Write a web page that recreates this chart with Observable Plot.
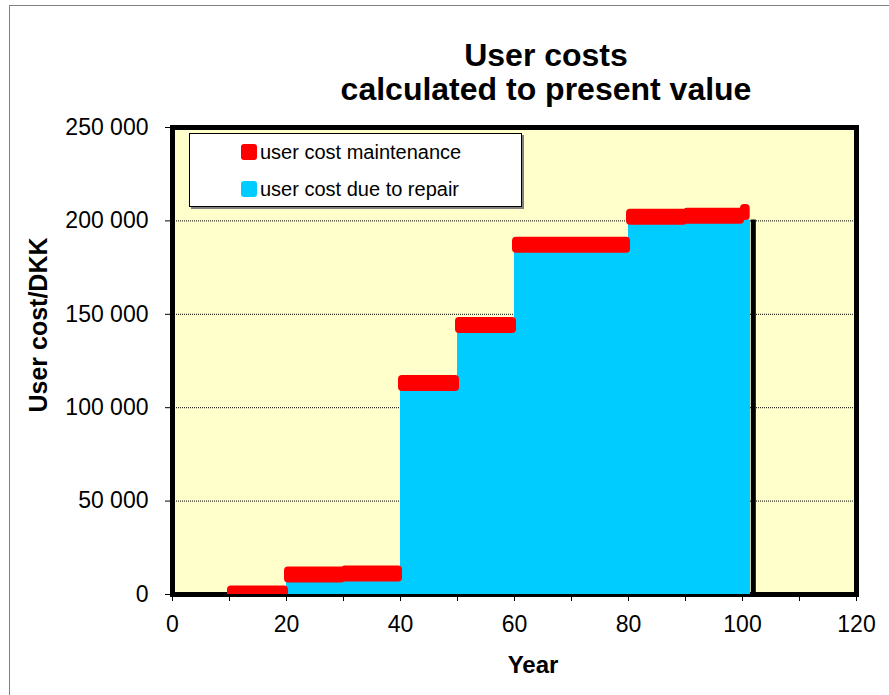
<!DOCTYPE html>
<html>
<head>
<meta charset="utf-8">
<script src="https://cdn.jsdelivr.net/npm/d3@7"></script>
<script src="https://cdn.jsdelivr.net/npm/@observablehq/plot@0.6"></script>
<style>
  html, body { margin: 0; padding: 0; }
  body { width: 889px; height: 695px; position: relative; overflow: hidden; background: #fff;
         font-family: "Liberation Sans", Arial, sans-serif; color: #000; }
  #outer { position: absolute; left: 9px; top: 5px; width: 1000px; height: 1000px; border: 1px solid #808080; }
  #chart { position: absolute; left: 0; top: 0; }
  .title { position: absolute; left: 246px; width: 600px; text-align: center; font-weight: bold;
           font-size: 32px; line-height: 32px; white-space: nowrap; }
  #legend { position: absolute; left: 189px; top: 133px; width: 331px; height: 72px; background: #fff;
            border: 1px solid #000; box-shadow: 2px 2px 0 #808080; }
  .sw { position: absolute; left: 51px; width: 16px; height: 16px; border-radius: 3px; }
  .lt { position: absolute; left: 70px; font-size: 20px; line-height: 20px; white-space: nowrap; }
  #xlabel { position: absolute; left: 433px; width: 200px; top: 653px; text-align: center; font-weight: bold;
            font-size: 24px; line-height: 24px; }
  #ylabel { position: absolute; left: 38px; top: 325px; transform: translate(-50%, -50%) rotate(-90deg);
            font-weight: bold; font-size: 25px; line-height: 25px; white-space: nowrap; }
</style>
</head>
<body>
<div id="outer"></div>
<div id="chart"></div>
<div class="title" style="top:39px"></div>
<div class="title" style="top:73px"></div>
<div id="legend"></div>
<div id="xlabel"></div>
<div id="ylabel"></div>
<script>
// ---- data ----
const titleLines = ["User costs", "calculated to present value"];
const xLabel = "Year";
const yLabel = "User cost/DKK";
const seriesNames = ["user cost maintenance", "user cost due to repair"];
const seriesColors = ["#ff0000", "#00ccff"];

// user cost due to repair (blue step area)
const repairYear  = [0, 20, 40, 50, 60, 80, 101.4];
const repairValue = [0, 10000, 112000, 143000, 186000, 200500, 200500];
const repairEndYear = 101.9;

// user cost maintenance (red thick segments)
const maintStart = [10, 20, 30, 40, 50, 60, 80, 90, 100];
const maintEnd   = [20, 30, 40, 50, 60, 80, 90, 100, 101];
const maintValue = [300, 10500, 11000, 113000, 144000, 187000, 202000, 202500, 204500];

// axes
const xTicks = [0, 10, 20, 30, 40, 50, 60, 70, 80, 90, 100, 110, 120];
const yTicks = [0, 50000, 100000, 150000, 200000, 250000];
const gridValues = [50000, 100000, 150000, 200000];

// ---- build tables ----
const repair = repairYear.map((x, i) => ({x, y: repairValue[i]}));
const maint = maintStart.map((s, i) => ({x1: s, x2: maintEnd[i], y: maintValue[i]}));
const fmtY = d => d3.format(",")(d).replace(/,/g, " ");

const chart = Plot.plot({
  width: 889,
  height: 695,
  marginLeft: 172,
  marginRight: 33,
  marginTop: 127,
  marginBottom: 101,
  style: {fontFamily: "'Liberation Sans', Arial, sans-serif", fontSize: "23px", background: "transparent", color: "#000"},
  x: {domain: [0, 120], ticks: xTicks, tickFormat: d => (d % 20 === 0 ? String(d) : ""), tickSize: 7, tickPadding: 14, label: null},
  y: {domain: [0, 250000], ticks: yTicks, tickFormat: fmtY, tickSize: 7, tickPadding: 17, label: null},
  marks: [
    Plot.frame({fill: "#ffffcc"}),
    Plot.ruleY(gridValues, {stroke: "#000", strokeWidth: 1, strokeDasharray: "1,1"}),
    Plot.frame({stroke: "#000", strokeWidth: 5}),
    Plot.areaY(repair, {x: "x", y: "y", curve: "step-after", fill: seriesColors[1]}),
    Plot.ruleX([repairEndYear], {y1: 0, y2: repairValue[repairValue.length - 1], stroke: "#000", strokeWidth: 5}),
    Plot.rect(maint, {x1: "x1", x2: "x2", y1: "y", y2: "y", fill: seriesColors[0], rx: 4,
      insetTop: -8, insetBottom: -8, insetLeft: -2, insetRight: -2, clip: true})
  ]
});
document.getElementById("chart").appendChild(chart);

// legend
const legend = document.getElementById("legend");
seriesNames.forEach((name, i) => {
  const sw = document.createElement("div");
  sw.className = "sw";
  sw.style.top = (10 + i * 37) + "px";
  sw.style.background = seriesColors[i];
  legend.appendChild(sw);
  const t = document.createElement("div");
  t.className = "lt";
  t.style.top = (8 + i * 37) + "px";
  t.textContent = name;
  legend.appendChild(t);
});
document.querySelectorAll(".title")[0].textContent = titleLines[0];
document.querySelectorAll(".title")[1].textContent = titleLines[1];
document.getElementById("xlabel").textContent = xLabel;
document.getElementById("ylabel").textContent = yLabel;
</script>
</body>
</html>
